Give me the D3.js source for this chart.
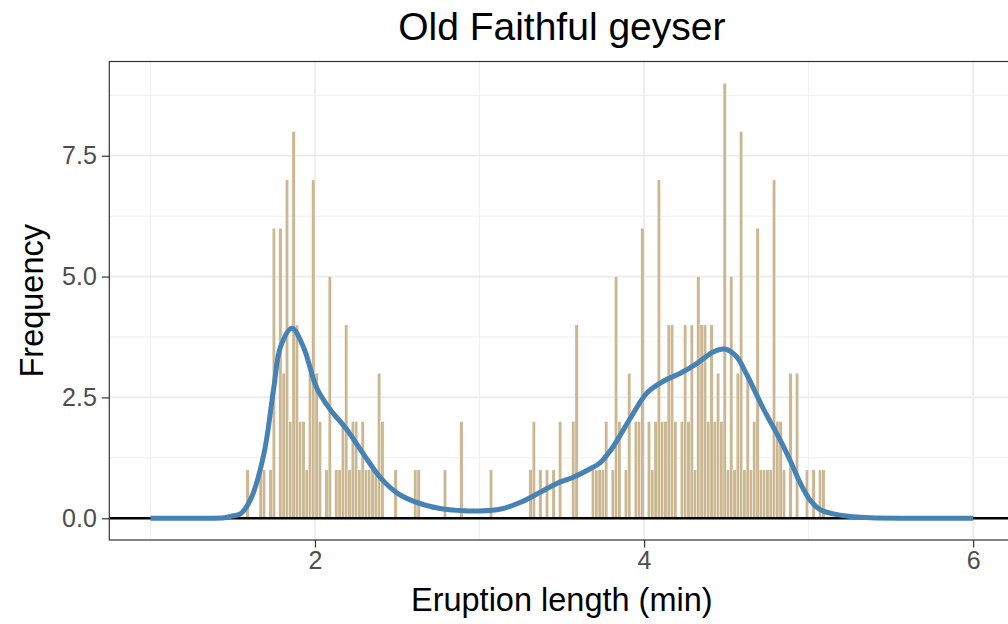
<!DOCTYPE html>
<html>
<head>
<meta charset="utf-8">
<script src="https://cdn.jsdelivr.net/npm/d3@7"></script>
<style>
  body { margin: 0; background: #fff; }
  text { font-family: "Liberation Sans", Arial, sans-serif; }
</style>
</head>
<body>
<div id="chart"></div>
<script>
// histogram bins (start of each 0.02 min bin) and their counts
var binWidth = 0.02;
var binStart = [
  1.58, 1.66, 1.68, 1.72, 1.74, 1.78, 1.80, 1.82, 1.84, 1.86,
  1.88, 1.90, 1.92, 1.94, 1.96, 1.98, 2.00, 2.02, 2.06, 2.08,
  2.12, 2.14, 2.16, 2.18, 2.20, 2.22, 2.24, 2.26, 2.28, 2.30,
  2.32, 2.34, 2.36, 2.38, 2.40, 2.48, 2.60, 2.62, 2.78, 2.88,
  3.06,
  3.30, 3.32, 3.36, 3.40, 3.44, 3.48, 3.56, 3.58,
  3.68, 3.70, 3.72, 3.74, 3.76, 3.80, 3.82, 3.84, 3.88, 3.90,
  3.94, 3.96, 3.98, 4.02, 4.04, 4.06, 4.08, 4.10, 4.12, 4.14,
  4.16, 4.18, 4.22, 4.24, 4.26, 4.28, 4.30, 4.32, 4.34, 4.36,
  4.38, 4.40, 4.42, 4.44, 4.46, 4.48, 4.50, 4.52, 4.54, 4.56,
  4.58, 4.60, 4.62, 4.64, 4.66, 4.68, 4.70, 4.72, 4.74, 4.76,
  4.78, 4.80, 4.82, 4.84, 4.88, 4.92, 4.98, 5.02, 5.06, 5.08
];
var binCount = [
  1, 1, 1, 1, 6, 6, 3, 7, 2, 8,
  4, 2, 2, 1, 3, 7, 3, 2, 1, 5,
  1, 1, 2, 4, 1, 2, 2, 1, 2, 1,
  1, 1, 1, 3, 2, 1, 1, 1, 1, 2,
  1,
  1, 2, 1, 1, 1, 2, 2, 4,
  1, 1, 1, 1, 2, 1, 5, 2, 1, 3,
  2, 2, 6, 2, 1, 2, 7, 2, 2, 4,
  4, 2, 2, 4, 2, 4, 1, 5, 4, 4,
  2, 4, 2, 3, 2, 9, 1, 5, 1, 3,
  8, 1, 3, 1, 2, 6, 1, 1, 1, 1,
  7, 2, 2, 1, 3, 3, 1, 1, 1, 1
];

// smoothed density curve (scaled to counts)
var densX = [1.0, 1.3, 1.45, 1.49, 1.55, 1.61, 1.69, 1.75, 1.79, 1.86,
  1.93, 2.01, 2.09, 2.19, 2.30, 2.40, 2.50, 2.60, 2.76, 2.88,
  3.00, 3.13, 3.25, 3.37, 3.47, 3.57, 3.67, 3.73, 3.81, 3.92,
  4.02, 4.12, 4.22, 4.32, 4.42, 4.49, 4.56, 4.62, 4.72, 4.83,
  4.89, 4.95, 5.01, 5.07, 5.15, 5.24, 5.38, 5.6, 6.0];
var densY = [0, 0, 0.01, 0.04, 0.1, 0.4, 1.34, 2.71, 3.54, 3.93,
  3.54, 2.7, 2.26, 1.85, 1.3, 0.83, 0.52, 0.35, 0.2, 0.16,
  0.15, 0.19, 0.33, 0.54, 0.72, 0.85, 1.02, 1.14, 1.47, 2.09,
  2.6, 2.84, 3.0, 3.2, 3.44, 3.5, 3.35, 3.0, 2.3, 1.6,
  1.18, 0.72, 0.37, 0.18, 0.09, 0.04, 0.01, 0, 0];

var xTicks = [2, 4, 6], xMinor = [1, 3, 5];
var yTicks = [0, 2.5, 5, 7.5], yMinor = [1.25, 3.75, 6.25, 8.75];

var W = 1008, H = 624;
var pLeft = 109.3, pRight = 1014.3, pTop = 61.5, pBottom = 540;

var svg = d3.select("#chart").append("svg")
    .attr("width", W)
    .attr("height", H);

var x = d3.scaleLinear().domain([0.75, 6.25]).range([pLeft, pRight]);
var y = d3.scaleLinear().domain([-0.45, 9.45]).range([pBottom, pTop]);

var panel = svg.append("g");

// grid
panel.selectAll(".xminor").data(xMinor).enter().append("line")
    .attr("x1", x).attr("x2", x).attr("y1", pTop).attr("y2", pBottom)
    .attr("stroke", "#ebebeb").attr("stroke-width", 0.8);
panel.selectAll(".yminor").data(yMinor).enter().append("line")
    .attr("x1", pLeft).attr("x2", pRight).attr("y1", y).attr("y2", y)
    .attr("stroke", "#ebebeb").attr("stroke-width", 0.8);
panel.selectAll(".xmajor").data(xTicks).enter().append("line")
    .attr("x1", x).attr("x2", x).attr("y1", pTop).attr("y2", pBottom)
    .attr("stroke", "#ebebeb").attr("stroke-width", 1.6);
panel.selectAll(".ymajor").data(yTicks).enter().append("line")
    .attr("x1", pLeft).attr("x2", pRight).attr("y1", y).attr("y2", y)
    .attr("stroke", "#ebebeb").attr("stroke-width", 1.6);

// bars
panel.selectAll("rect.bar")
    .data(binStart)
    .enter()
    .append("rect")
      .attr("class", "bar")
      .attr("x", function(d) { return x(d); })
      .attr("width", function(d) { return x(d + binWidth) - x(d); })
      .attr("y", function(d, i) { return y(binCount[i]); })
      .attr("height", function(d, i) { return y(0) - y(binCount[i]); })
      .attr("fill", "#cbb892")
      .attr("stroke", "#ffffff")
      .attr("stroke-width", 0.35);

// zero line
panel.append("line")
    .attr("x1", pLeft).attr("x2", pRight)
    .attr("y1", y(0)).attr("y2", y(0))
    .attr("stroke", "#000").attr("stroke-width", 2.4);

// density curve
var line = d3.line()
    .x(function(d) { return x(d); })
    .y(function(d, i) { return y(densY[i]); })
    .curve(d3.curveCatmullRom.alpha(0.5));
panel.append("path")
    .attr("d", line(densX))
    .attr("fill", "none")
    .attr("stroke", "#4682b4")
    .attr("stroke-width", 5);

// border
svg.append("rect")
    .attr("x", pLeft).attr("y", pTop)
    .attr("width", pRight - pLeft).attr("height", pBottom - pTop)
    .attr("fill", "none").attr("stroke", "#333333").attr("stroke-width", 1.2);

// axes
var yAxis = svg.append("g")
    .attr("transform", "translate(" + pLeft + ",0)")
    .call(d3.axisLeft(y).tickValues(yTicks).tickFormat(d3.format(".1f")).tickSize(7.5).tickPadding(5));
var xAxis = svg.append("g")
    .attr("transform", "translate(0," + pBottom + ")")
    .call(d3.axisBottom(x).tickValues(xTicks).tickFormat(d3.format("d")).tickSize(7.5).tickPadding(4));
[yAxis, xAxis].forEach(function(a) {
  a.select(".domain").remove();
  a.selectAll(".tick line").attr("stroke", "#333333").attr("stroke-width", 1.2);
  a.selectAll(".tick text")
    .attr("fill", "#4d4d4d")
    .style("font-size", "25px")
    .style("font-family", "'Liberation Sans', Arial, sans-serif");
});

// titles
svg.append("text")
    .attr("x", (pLeft + pRight) / 2)
    .attr("y", 40)
    .attr("text-anchor", "middle")
    .style("font-size", "39px")
    .text("Old Faithful geyser");

svg.append("text")
    .attr("x", (pLeft + pRight) / 2)
    .attr("y", 611)
    .attr("text-anchor", "middle")
    .style("font-size", "32.5px")
    .text("Eruption length (min)");

svg.append("text")
    .attr("transform", "translate(43," + ((pTop + pBottom) / 2) + ") rotate(-90)")
    .attr("text-anchor", "middle")
    .style("font-size", "32.5px")
    .text("Frequency");
</script>
</body>
</html>
